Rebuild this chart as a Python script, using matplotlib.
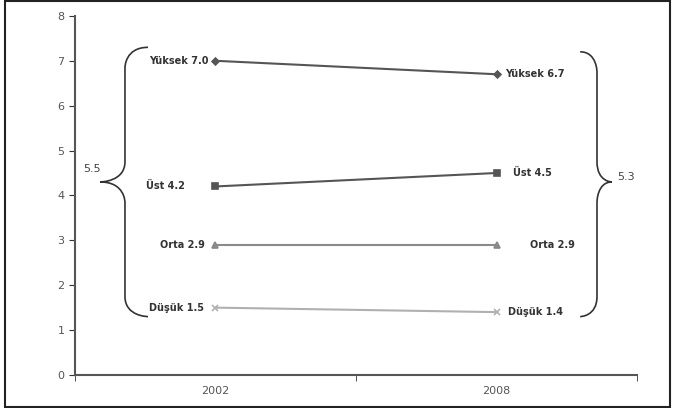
import matplotlib
matplotlib.use('Agg')
import matplotlib.pyplot as plt
from matplotlib.path import Path
from matplotlib.patches import PathPatch, Rectangle

years = ['2002', '2008']
groups = ['Yüksek', 'Üst', 'Orta', 'Düşük']
values = {
    'Yüksek': [7.0, 6.7],
    'Üst': [4.2, 4.5],
    'Orta': [2.9, 2.9],
    'Düşük': [1.5, 1.4],
}
spread = [5.5, 5.3]

styles = {
    'Yüksek': dict(color='#555555', marker='D', markersize=3.5),
    'Üst': dict(color='#555555', marker='s', markersize=5),
    'Orta': dict(color='#8a8a8a', marker='^', markersize=5),
    'Düşük': dict(color='#b0b0b0', marker='x', markersize=5),
}

# label offsets in points (2002 side, 2008 side)
label_dx = {
    'Yüksek': (-5, 6),
    'Üst': (-22, 12),
    'Orta': (-8, 24),
    'Düşük': (-8, 8),
}


def brace(ax, x_end, x_mid, x_tip, y_top, y_bot, y_tip, r=0.45):
    verts = [
        (x_end, y_top),
        (x_mid, y_top), (x_mid, y_top - r), (x_mid, y_top - r),
        (x_mid, y_tip + r),
        (x_mid, y_tip), (x_tip, y_tip), (x_tip, y_tip),
        (x_mid, y_tip), (x_mid, y_tip - r), (x_mid, y_tip - r),
        (x_mid, y_bot + r),
        (x_mid, y_bot), (x_end, y_bot), (x_end, y_bot),
    ]
    codes = [Path.MOVETO,
             Path.CURVE4, Path.CURVE4, Path.CURVE4,
             Path.LINETO,
             Path.CURVE4, Path.CURVE4, Path.CURVE4,
             Path.CURVE4, Path.CURVE4, Path.CURVE4,
             Path.LINETO,
             Path.CURVE4, Path.CURVE4, Path.CURVE4]
    ax.add_patch(PathPatch(Path(verts, codes), fill=False,
                           edgecolor='#333333', linewidth=1.2, clip_on=False))


fig = plt.figure(figsize=(6.75, 4.08), dpi=100)
ax = fig.add_axes([0.111, 0.081, 0.833, 0.88])

xs = list(range(len(years)))
for g in groups:
    st = styles[g]
    ax.plot(xs, values[g], linewidth=1.5, markeredgewidth=1.2, **st)
    for i, (x, y) in enumerate(zip(xs, values[g])):
        dx = label_dx[g][i]
        ax.annotate(f'{g} {y:.1f}', (x, y), xytext=(dx, 0),
                    textcoords='offset points',
                    ha='right' if i == 0 else 'left', va='center',
                    fontsize=7, fontweight='bold', color='#333333')

# braces
brace(ax, -0.24, -0.322, -0.41, 7.3, 1.3, 4.3)
brace(ax, 1.297, 1.357, 1.41, 7.2, 1.3, 4.3)
ax.text(-0.44, 4.6, f'{spread[0]}', ha='center', va='center', fontsize=8, color='#444444')
ax.text(1.46, 4.42, f'{spread[1]}', ha='center', va='center', fontsize=8, color='#444444')

ax.set_xlim(-0.5, 1.5)
ax.set_ylim(0, 8)
ax.set_xticks(xs)
ax.set_xticklabels(years)
ax.set_xticks([-0.5, 0.5, 1.5], minor=True)
ax.tick_params(axis='x', which='major', length=0, pad=8, labelsize=8, labelcolor='#555555')
ax.tick_params(axis='x', which='minor', length=4, color='#333333')
ax.tick_params(axis='y', length=4, labelsize=8, labelcolor='#555555', color='#333333')
for s in ['top', 'right']:
    ax.spines[s].set_visible(False)
for s in ['left', 'bottom']:
    ax.spines[s].set_color('#555555')
    ax.spines[s].set_linewidth(1.5)

# frame around the figure
fig.patches.append(Rectangle((0.008, 0.002), 0.984, 0.995, transform=fig.transFigure,
                             fill=False, edgecolor='#222222', linewidth=1.5))

fig.savefig('out.png', dpi=100)
